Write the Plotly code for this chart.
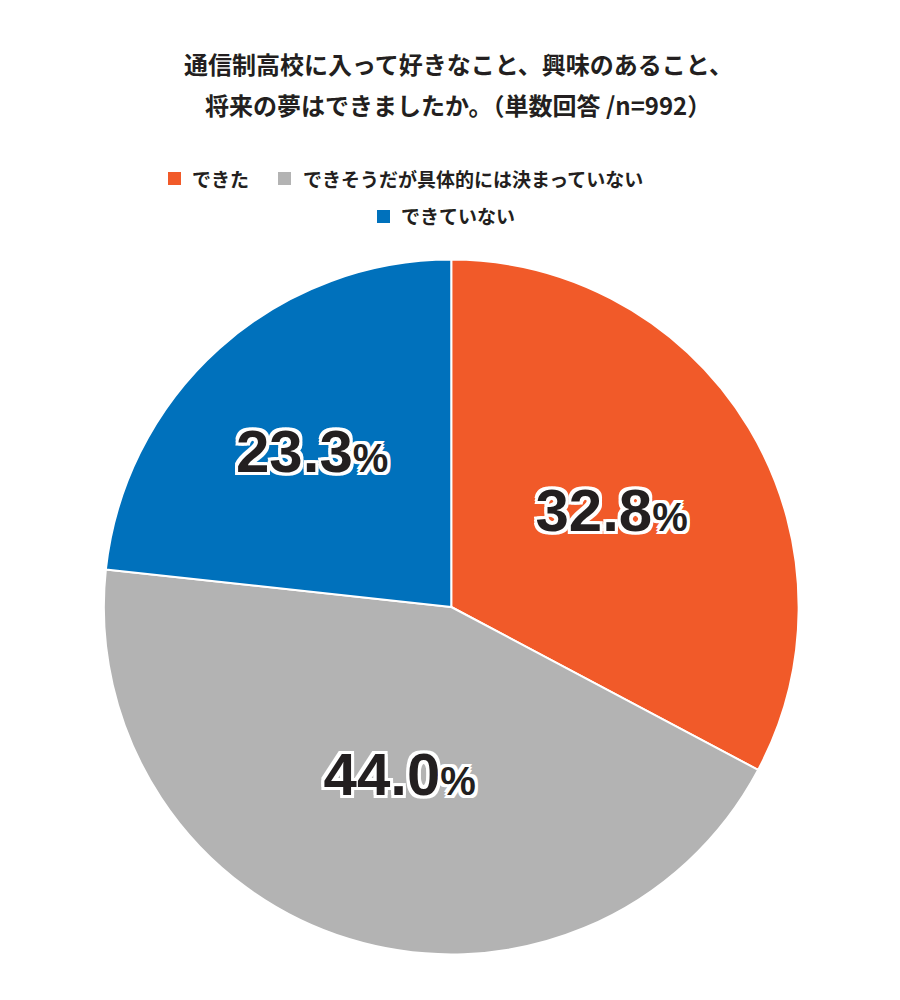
import plotly.graph_objects as go

labels = ["できた", "できそうだが具体的には決まっていない", "できていない"]
values = [32.8, 44.0, 23.3]
colors = ["#f15a29", "#b3b3b3", "#0071bc"]
title_lines = ["通信制高校に入って好きなこと、興味のあること、", "将来の夢はできましたか。（単数回答 /n=992）"]

texts = [f"{v:.1f}<span style='font-size:40px'>%</span>" for v in values]

fig = go.Figure(go.Pie(
    labels=labels, values=values, sort=False, direction="clockwise", rotation=0,
    marker=dict(colors=colors, line=dict(color="white", width=2)),
    text=texts, textinfo="text", textposition="inside", insidetextorientation="horizontal",
    textfont=dict(family="Liberation Sans, Arial", size=60, color="#231f20", weight="bold",
                  shadow="3px 3px 0 #fff, -3px -3px 0 #fff, 3px -3px 0 #fff, -3px 3px 0 #fff, 0 3px 0 #fff, 0 -3px 0 #fff, 3px 0 0 #fff, -3px 0 0 #fff"),
    domain=dict(x=[0.1065, 0.8785], y=[0.052, 0.750]),
    hoverinfo="label+percent", showlegend=False,
))

ann = []
for i, line in enumerate(title_lines):
    ann.append(dict(text=f"<b>{line}</b>", x=0.5, xref="paper", y=1 - (55 + 42 * i) / 1000,
                    yref="paper", xanchor="center", yanchor="middle", showarrow=False,
                    font=dict(size=24, family="Noto Sans CJK JP", color="#231f20")))

# legend drawn manually: (square left px, text left px, row y px)
leg_pos = [(160, 182, 170), (270, 293, 170), (369, 391, 208)]
shapes = []
for (sx, tx, yy), lab, col in zip(leg_pos, labels, colors):
    shapes.append(dict(type="rect", xref="paper", yref="paper",
                       x0=sx / 900, x1=(sx + 13) / 900,
                       y0=1 - (yy + 7) / 1000, y1=1 - (yy - 6) / 1000,
                       fillcolor=col, line=dict(width=0)))
    ann.append(dict(text=f"<b>{lab}</b>", x=tx / 900, xref="paper", y=1 - yy / 1000, yref="paper",
                    xanchor="left", yanchor="middle", showarrow=False,
                    font=dict(size=19, family="Noto Sans CJK JP", color="#231f20")))

fig.update_layout(
    width=900, height=1000, margin=dict(l=0, r=0, t=0, b=0),
    paper_bgcolor="white", plot_bgcolor="white",
    font=dict(family="Noto Sans CJK JP", color="#231f20"),
    annotations=ann, shapes=shapes, showlegend=False,
)
fig.write_html("out.html")
